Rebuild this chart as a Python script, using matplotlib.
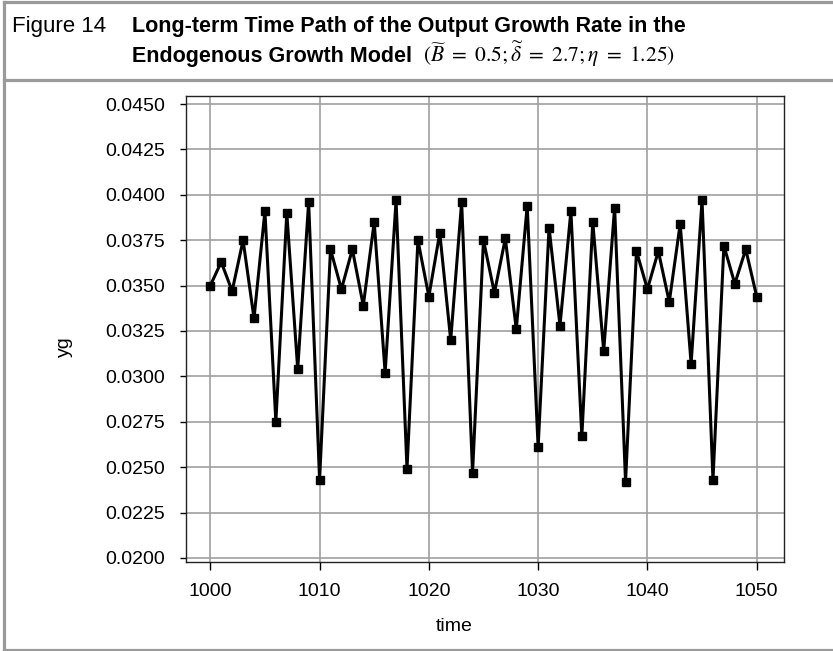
import matplotlib
matplotlib.use("Agg")
import matplotlib.pyplot as plt
from matplotlib.lines import Line2D

# data
time = list(range(1000, 1051))
yg = [0.0350, 0.0363, 0.0347, 0.0375, 0.0332, 0.0391, 0.0275, 0.0390, 0.0304, 0.0396,
      0.0243, 0.0370, 0.0348, 0.0370, 0.0339, 0.0385, 0.0302, 0.0397, 0.0249, 0.0375,
      0.0344, 0.0379, 0.0320, 0.0396, 0.0247, 0.0375, 0.0346, 0.0376, 0.0326, 0.0394,
      0.0261, 0.0382, 0.0328, 0.0391, 0.0267, 0.0385, 0.0314, 0.0393, 0.0242, 0.0369,
      0.0348, 0.0369, 0.0341, 0.0384, 0.0307, 0.0397, 0.0243, 0.0372, 0.0351, 0.0370,
      0.0344]
yticks = [0.0200, 0.0225, 0.0250, 0.0275, 0.0300, 0.0325, 0.0350, 0.0375, 0.0400, 0.0425, 0.0450]
xticks = [1000, 1010, 1020, 1030, 1040, 1050]

W, H = 833, 651
fig = plt.figure(figsize=(W / 100, H / 100), dpi=100)

def fx(px):
    return px / W

def fy(py):
    return 1 - py / H

# frame around the figure and under the title
gray = "#9a9a9a"
for xs, ys in [([3.5, 3.5], [1.5, 649.5]), ([3.5, 833], [1.5, 1.5]),
               ([3.5, 833], [649.5, 649.5]), ([3.5, 833], [80, 80])]:
    fig.add_artist(Line2D([fx(x) for x in xs], [fy(y) for y in ys], color=gray, lw=2.3,
                          transform=fig.transFigure))

tfont = "Liberation Sans"
tsize = 15.5
fig.text(fx(12), fy(31.7), "Figure 14", family=tfont, fontsize=tsize + 0.5, va="baseline")
fig.text(fx(132), fy(31.7), "Long-term Time Path of the Output Growth Rate in the",
         family=tfont, fontsize=tsize, fontweight="bold", va="baseline")
t2 = fig.text(fx(132), fy(62), "Endogenous Growth Model",
              family=tfont, fontsize=tsize, fontweight="bold", va="baseline")
fig.canvas.draw()
x_end = t2.get_window_extent().x1
fig.text((x_end + 11) / W, fy(62),
         r"$(\widetilde{B}\ =\ 0.5;\widetilde{\delta}\ =\ 2.7;\eta\ =\ 1.25)$",
         fontsize=15.5, math_fontfamily="stix", va="baseline")

ax = fig.add_axes([fx(185.7), fy(562.3), fx(784) - fx(185.7), fy(95.7) - fy(562.3)])
ax.plot(time, yg, color="black", lw=2.2, marker="s", markersize=5.5, zorder=3)

ax.set_xlim(997.75, 1052.5)
ax.set_ylim(0.01976, 0.04546)
ax.set_xticks(xticks)
ax.set_yticks(yticks)
ax.set_yticklabels([f"{v:.4f}" for v in yticks])
ax.grid(True, color="#a0a0a0", lw=1.2)
ax.set_axisbelow(True)
for s in ax.spines.values():
    s.set_color("#222222")
    s.set_linewidth(1)
ax.tick_params(axis="y", direction="out", length=4, width=1, pad=11, labelsize=14)
ax.tick_params(axis="x", direction="out", length=6, width=1, pad=9, labelsize=14)
for lab in ax.get_xticklabels() + ax.get_yticklabels():
    lab.set_family("Liberation Sans")

fig.text(fx(454), fy(631), "time", family="Liberation Sans", fontsize=14, ha="center", va="baseline")
fig.text(fx(64), fy(347), "yg", family="Liberation Sans", fontsize=14, ha="center", va="center",
         rotation=90)

fig.savefig("out.png", dpi=100)
